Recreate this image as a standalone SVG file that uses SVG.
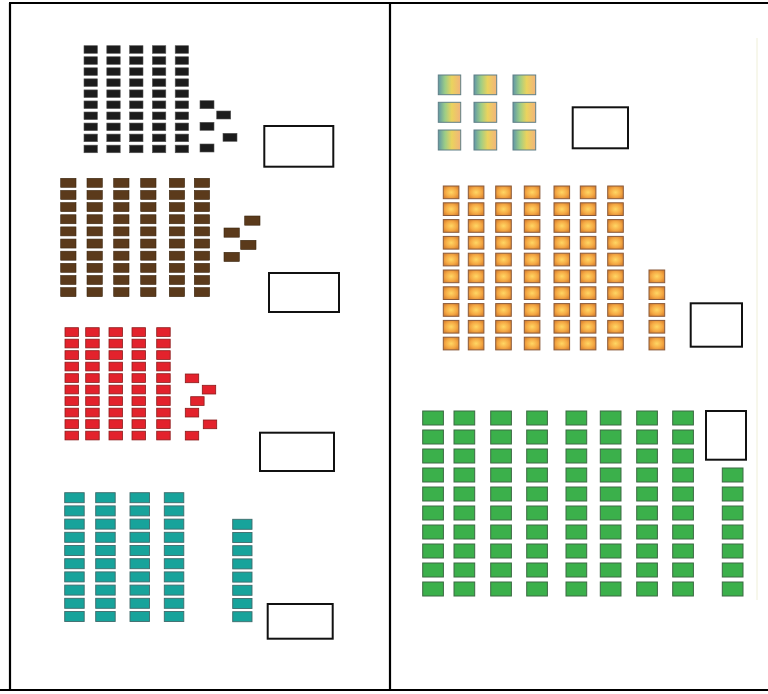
<svg xmlns="http://www.w3.org/2000/svg" xmlns:xlink="http://www.w3.org/1999/xlink" width="768" height="694" viewBox="0 0 768 694">
<style>
.bk{fill:#1c1c1c;stroke:#555;stroke-width:0.6}
.br{fill:#5b3a1b;stroke:#3a2510;stroke-width:0.6}
.rd{fill:#e3222c;stroke:#8a1c1c;stroke-width:0.8}
.tl{fill:#17a39b;stroke:#3f6b6b;stroke-width:0.9}
.og{fill:url(#ogGrad);stroke:#8a5a3a;stroke-width:1}
.gr{fill:#3bb04b;stroke:#3d6a44;stroke-width:1}
.gd{fill:url(#rbGrad);stroke:#5f7f86;stroke-width:1}
.box{fill:#fff;stroke:#111;stroke-width:2}
.grid{stroke:#000;stroke-width:2.2;fill:none}
</style>
<defs>
<linearGradient id="rbGrad" x1="0" y1="0" x2="1" y2="0">
<stop offset="0" stop-color="#5f97a6"/>
<stop offset="0.3" stop-color="#9ccd86"/>
<stop offset="0.6" stop-color="#ead35e"/>
<stop offset="1" stop-color="#f2b47a"/>
</linearGradient>
<radialGradient id="ogGrad" cx="0.5" cy="0.5" r="0.6">
<stop offset="0" stop-color="#ffd764"/>
<stop offset="0.6" stop-color="#f5a944"/>
<stop offset="1" stop-color="#d9822f"/>
</radialGradient>
<g id="blackTen"><rect class="bk" x="0" y="0" width="13.4" height="7.6"/><rect class="bk" x="0" y="11.05" width="13.4" height="7.6"/><rect class="bk" x="0" y="22.1" width="13.4" height="7.6"/><rect class="bk" x="0" y="33.15" width="13.4" height="7.6"/><rect class="bk" x="0" y="44.2" width="13.4" height="7.6"/><rect class="bk" x="0" y="55.25" width="13.4" height="7.6"/><rect class="bk" x="0" y="66.3" width="13.4" height="7.6"/><rect class="bk" x="0" y="77.35" width="13.4" height="7.6"/><rect class="bk" x="0" y="88.4" width="13.4" height="7.6"/><rect class="bk" x="0" y="99.45" width="13.4" height="7.6"/></g>
<g id="brownTen"><rect class="br" x="0" y="0" width="15.3" height="9"/><rect class="br" x="0" y="12.15" width="15.3" height="9"/><rect class="br" x="0" y="24.3" width="15.3" height="9"/><rect class="br" x="0" y="36.45" width="15.3" height="9"/><rect class="br" x="0" y="48.6" width="15.3" height="9"/><rect class="br" x="0" y="60.75" width="15.3" height="9"/><rect class="br" x="0" y="72.9" width="15.3" height="9"/><rect class="br" x="0" y="85.05" width="15.3" height="9"/><rect class="br" x="0" y="97.2" width="15.3" height="9"/><rect class="br" x="0" y="109.35" width="15.3" height="9"/></g>
<g id="redTen"><rect class="rd" x="0" y="0" width="13.5" height="8.7"/><rect class="rd" x="0" y="11.5" width="13.5" height="8.7"/><rect class="rd" x="0" y="23" width="13.5" height="8.7"/><rect class="rd" x="0" y="34.5" width="13.5" height="8.7"/><rect class="rd" x="0" y="46" width="13.5" height="8.7"/><rect class="rd" x="0" y="57.5" width="13.5" height="8.7"/><rect class="rd" x="0" y="69" width="13.5" height="8.7"/><rect class="rd" x="0" y="80.5" width="13.5" height="8.7"/><rect class="rd" x="0" y="92" width="13.5" height="8.7"/><rect class="rd" x="0" y="103.5" width="13.5" height="8.7"/></g>
<g id="tealTen"><rect class="tl" x="0" y="0" width="19.5" height="10"/><rect class="tl" x="0" y="13.2" width="19.5" height="10"/><rect class="tl" x="0" y="26.4" width="19.5" height="10"/><rect class="tl" x="0" y="39.6" width="19.5" height="10"/><rect class="tl" x="0" y="52.8" width="19.5" height="10"/><rect class="tl" x="0" y="66" width="19.5" height="10"/><rect class="tl" x="0" y="79.2" width="19.5" height="10"/><rect class="tl" x="0" y="92.4" width="19.5" height="10"/><rect class="tl" x="0" y="105.6" width="19.5" height="10"/><rect class="tl" x="0" y="118.8" width="19.5" height="10"/></g>
<g id="orangeTen"><rect class="og" x="0" y="0" width="15.6" height="12.7"/><rect class="og" x="0" y="16.8" width="15.6" height="12.7"/><rect class="og" x="0" y="33.6" width="15.6" height="12.7"/><rect class="og" x="0" y="50.4" width="15.6" height="12.7"/><rect class="og" x="0" y="67.2" width="15.6" height="12.7"/><rect class="og" x="0" y="84" width="15.6" height="12.7"/><rect class="og" x="0" y="100.8" width="15.6" height="12.7"/><rect class="og" x="0" y="117.6" width="15.6" height="12.7"/><rect class="og" x="0" y="134.4" width="15.6" height="12.7"/><rect class="og" x="0" y="151.2" width="15.6" height="12.7"/></g>
<g id="greenTen"><rect class="gr" x="0" y="0" width="20.7" height="14"/><rect class="gr" x="0" y="19" width="20.7" height="14"/><rect class="gr" x="0" y="38" width="20.7" height="14"/><rect class="gr" x="0" y="57" width="20.7" height="14"/><rect class="gr" x="0" y="76" width="20.7" height="14"/><rect class="gr" x="0" y="95" width="20.7" height="14"/><rect class="gr" x="0" y="114" width="20.7" height="14"/><rect class="gr" x="0" y="133" width="20.7" height="14"/><rect class="gr" x="0" y="152" width="20.7" height="14"/><rect class="gr" x="0" y="171" width="20.7" height="14"/></g>
</defs>
<rect x="0" y="0" width="768" height="694" fill="#fff"/>
<g id="table">
<line class="grid" x1="9" y1="3" x2="768" y2="3"/>
<line class="grid" x1="10" y1="3" x2="10" y2="690"/>
<line class="grid" x1="390" y1="3" x2="390" y2="690"/>
<line class="grid" x1="0" y1="690" x2="768" y2="690"/>
<line x1="757" y1="38" x2="757" y2="600" stroke="#efefd8" stroke-width="1"/>
</g>
<g id="black-55">
<use xlink:href="#blackTen" x="84" y="45.7"/><use xlink:href="#blackTen" x="106.8" y="45.7"/><use xlink:href="#blackTen" x="129.6" y="45.7"/><use xlink:href="#blackTen" x="152.4" y="45.7"/><use xlink:href="#blackTen" x="175.2" y="45.7"/>
<rect class="bk" x="200" y="100.7" width="14" height="8"/><rect class="bk" x="216.7" y="111" width="14" height="8"/><rect class="bk" x="200" y="122.3" width="14" height="8"/><rect class="bk" x="223" y="133.3" width="14" height="8"/><rect class="bk" x="200" y="144" width="14" height="8"/>
<rect class="box" x="264.3" y="126" width="69" height="40.7"/>
</g>
<g id="brown-64">
<use xlink:href="#brownTen" x="60.7" y="178.3"/><use xlink:href="#brownTen" x="87" y="178.3"/><use xlink:href="#brownTen" x="113.7" y="178.3"/><use xlink:href="#brownTen" x="140.7" y="178.3"/><use xlink:href="#brownTen" x="169.3" y="178.3"/><use xlink:href="#brownTen" x="194.3" y="178.3"/>
<rect class="br" x="244.7" y="216" width="15.3" height="9.2"/><rect class="br" x="224" y="228" width="15.3" height="9.2"/><rect class="br" x="240.7" y="240.3" width="15.3" height="9.2"/><rect class="br" x="224" y="252.3" width="15.3" height="9.2"/>
<rect class="box" x="269" y="273" width="70" height="39"/>
</g>
<g id="red-56">
<use xlink:href="#redTen" x="65" y="327.7"/><use xlink:href="#redTen" x="85.7" y="327.7"/><use xlink:href="#redTen" x="109" y="327.7"/><use xlink:href="#redTen" x="132" y="327.7"/><use xlink:href="#redTen" x="156.7" y="327.7"/>
<rect class="rd" x="185.3" y="374" width="13.4" height="8.7"/><rect class="rd" x="202.3" y="385.3" width="13.4" height="8.7"/><rect class="rd" x="190.7" y="396.7" width="13.4" height="8.7"/><rect class="rd" x="185.3" y="408.3" width="13.4" height="8.7"/><rect class="rd" x="203.3" y="420" width="13.4" height="8.7"/><rect class="rd" x="185.3" y="431.3" width="13.4" height="8.7"/>
<rect class="box" x="260" y="432.7" width="74" height="38.3"/>
</g>
<g id="teal-48">
<use xlink:href="#tealTen" x="64.7" y="492.7"/><use xlink:href="#tealTen" x="95.7" y="492.7"/><use xlink:href="#tealTen" x="130" y="492.7"/><use xlink:href="#tealTen" x="164.3" y="492.7"/>
<rect class="tl" x="232.7" y="519.3" width="19.3" height="10"/><rect class="tl" x="232.7" y="532.5" width="19.3" height="10"/><rect class="tl" x="232.7" y="545.7" width="19.3" height="10"/><rect class="tl" x="232.7" y="558.9" width="19.3" height="10"/><rect class="tl" x="232.7" y="572.1" width="19.3" height="10"/><rect class="tl" x="232.7" y="585.3" width="19.3" height="10"/><rect class="tl" x="232.7" y="598.5" width="19.3" height="10"/><rect class="tl" x="232.7" y="611.7" width="19.3" height="10"/>
<rect class="box" x="267.7" y="604" width="65" height="34.7"/>
</g>
<g id="ones-9">
<rect class="gd" x="438.3" y="75" width="22.4" height="19.7"/><rect class="gd" x="474" y="75" width="22.7" height="19.7"/><rect class="gd" x="513" y="75" width="22.7" height="19.7"/>
<rect class="gd" x="438.3" y="102.3" width="22.4" height="20"/><rect class="gd" x="474" y="102.3" width="22.7" height="20"/><rect class="gd" x="513" y="102.3" width="22.7" height="20"/>
<rect class="gd" x="438.3" y="130" width="22.4" height="20"/><rect class="gd" x="474" y="130" width="22.7" height="20"/><rect class="gd" x="513" y="130" width="22.7" height="20"/>
<rect class="box" x="572.7" y="107.3" width="55.3" height="41"/>
</g>
<g id="orange-75">
<use xlink:href="#orangeTen" x="443.3" y="186"/><use xlink:href="#orangeTen" x="468.3" y="186"/><use xlink:href="#orangeTen" x="495.7" y="186"/><use xlink:href="#orangeTen" x="524.3" y="186"/><use xlink:href="#orangeTen" x="554" y="186"/><use xlink:href="#orangeTen" x="580.3" y="186"/><use xlink:href="#orangeTen" x="607.7" y="186"/>
<rect class="og" x="649" y="270" width="15.7" height="12.7"/><rect class="og" x="649" y="286.8" width="15.7" height="12.7"/><rect class="og" x="649" y="303.6" width="15.7" height="12.7"/><rect class="og" x="649" y="320.4" width="15.7" height="12.7"/><rect class="og" x="649" y="337.2" width="15.7" height="12.7"/>
<rect class="box" x="690.7" y="303.3" width="51.3" height="43.4"/>
</g>
<g id="green-87">
<use xlink:href="#greenTen" x="422.7" y="411"/><use xlink:href="#greenTen" x="454" y="411"/><use xlink:href="#greenTen" x="490.7" y="411"/><use xlink:href="#greenTen" x="526.7" y="411"/><use xlink:href="#greenTen" x="566" y="411"/><use xlink:href="#greenTen" x="600.3" y="411"/><use xlink:href="#greenTen" x="636.7" y="411"/><use xlink:href="#greenTen" x="672.7" y="411"/>
<rect class="gr" x="722.3" y="468" width="20.7" height="14"/><rect class="gr" x="722.3" y="487" width="20.7" height="14"/><rect class="gr" x="722.3" y="506" width="20.7" height="14"/><rect class="gr" x="722.3" y="525" width="20.7" height="14"/><rect class="gr" x="722.3" y="544" width="20.7" height="14"/><rect class="gr" x="722.3" y="563" width="20.7" height="14"/><rect class="gr" x="722.3" y="582" width="20.7" height="14"/>
<rect class="box" x="706" y="411" width="40" height="48.7"/>
</g>
</svg>
